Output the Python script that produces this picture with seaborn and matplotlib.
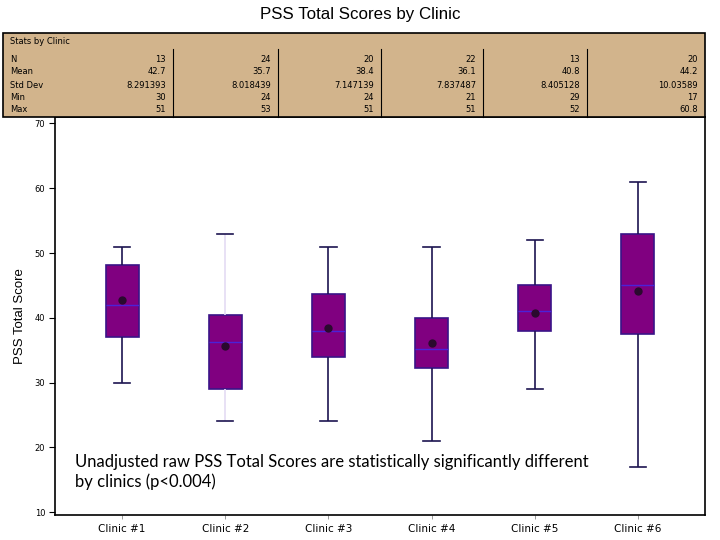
import numpy as np
import pandas as pd
import matplotlib
matplotlib.use("Agg")
import matplotlib.pyplot as plt
from matplotlib.patches import Rectangle
import seaborn as sns

# ---------------- data ----------------
clinics = ["Clinic #1", "Clinic #2", "Clinic #3", "Clinic #4", "Clinic #5", "Clinic #6"]
mins = [30, 24, 24, 21, 29, 17]
q1s = [37, 29, 34, 32.2, 38, 37.5]
medians = [42, 36.2, 38, 35.2, 41.1, 45.1]
q3s = [48.2, 40.5, 43.6, 40, 45.1, 53]
maxs = [51, 53, 51, 51, 52, 61]
means = [42.7, 35.7, 38.4, 36.1, 40.8, 44.2]

row_labels = ["N", "Mean", "Std Dev", "Min", "Max"]
table_n = ["13", "24", "20", "22", "13", "20"]
table_mean = ["42.7", "35.7", "38.4", "36.1", "40.8", "44.2"]
table_std = ["8.291393", "8.018439", "7.147139", "7.837487", "8.405128", "10.03589"]
table_min = ["30", "24", "24", "21", "29", "17"]
table_max = ["51", "53", "51", "51", "52", "60.8"]
y_ticks = [10, 20, 30, 40, 50, 60, 70]

title = "PSS Total Scores by Clinic"
ylabel = "PSS Total Score"
note = ("Unadjusted raw PSS Total Scores are statistically significantly different\n"
        "by clinics (p<0.004)")

# five-number summaries as long table
rows = []
for c, a, b, m, d, e in zip(clinics, mins, q1s, medians, q3s, maxs):
    for v in (a, b, m, d, e):
        rows.append({"clinic": c, "score": v})
df = pd.DataFrame(rows)
df_mean = pd.DataFrame({"clinic": clinics, "mean": means})

# ---------------- figure ----------------
W, H = 720, 540
fig = plt.figure(figsize=(7.2, 5.4), dpi=100)
fig.patch.set_facecolor("white")

ax = fig.add_axes([55 / W, 1 - 514.7 / H, 650 / W, 397.7 / H])

box_fill = "#800080"
edge = "#3a1488"
whisk = "#1c1450"

sns.boxplot(data=df, x="clinic", y="score", order=clinics, whis=(0, 100),
            width=0.32, color=box_fill, saturation=1, linecolor=edge,
            linewidth=1.2, showfliers=False,
            medianprops=dict(color="#4b22d8", linewidth=1.0),
            whiskerprops=dict(color=whisk, linewidth=1.2),
            capprops=dict(color=whisk, linewidth=1.2),
            ax=ax)

# clinic #2 whiskers drawn faint as in the reference
for ln in ax.lines:
    xd = np.asarray(ln.get_xdata(), dtype=float)
    if len(xd) == 2 and np.allclose(xd, 1.0):
        ln.set_color("#e4dcf4")

sns.stripplot(data=df_mean, x="clinic", y="mean", order=clinics, jitter=False,
              size=6, color="#2a0a2e", linewidth=0, zorder=5, ax=ax)

ax.set_xlim(-0.65, 5.65)
ax.set_ylim(9.6, 71)
ax.set_yticks(y_ticks)
ax.set_yticklabels([str(t) for t in y_ticks], fontsize=6)
ax.tick_params(axis="y", length=4, width=0.8, pad=3, color="black")
ax.tick_params(axis="x", length=3, width=0.6, pad=4, color="#888888", labelsize=7.5)
ax.set_xlabel("")
ax.set_ylabel(ylabel, fontsize=9.5, family="Liberation Sans", labelpad=6)
for s in ax.spines.values():
    s.set_color("black")
    s.set_linewidth(1.2)

fig.text(75 / W, 1 - 472 / H, note, fontsize=12, family="Lato",
         va="center", ha="left", linespacing=1.3)

fig.text(0.5, 1 - 15 / H, title, fontsize=12.2, family="Liberation Sans",
         ha="center", va="center")

# ---------------- stats table ----------------
tax = fig.add_axes([3 / W, 1 - 117 / H, 702 / W, 84 / H])
tax.set_xlim(3, 705)
tax.set_ylim(117, 33)
tax.axis("off")
tax.add_patch(Rectangle((3, 33), 702, 84, facecolor="#d2b48c",
                        edgecolor="black", lw=1.2, clip_on=False))
col_right = [173, 278, 381, 483, 587, 705]
for xs in col_right[:-1]:
    tax.plot([xs, xs], [49, 117], color="black", lw=0.8, clip_on=False)
tax.text(10, 42, "Stats by Clinic", fontsize=6, va="center", ha="left")
row_y = [60, 72, 85, 98, 110]
table_vals = [table_n, table_mean, table_std, table_min, table_max]
for ry, lab, vals in zip(row_y, row_labels, table_vals):
    tax.text(10, ry, lab, fontsize=6, va="center", ha="left")
    for xr, v in zip(col_right, vals):
        tax.text(xr - 7, ry, v, fontsize=6, va="center", ha="right")

fig.savefig("out.png", dpi=100)
